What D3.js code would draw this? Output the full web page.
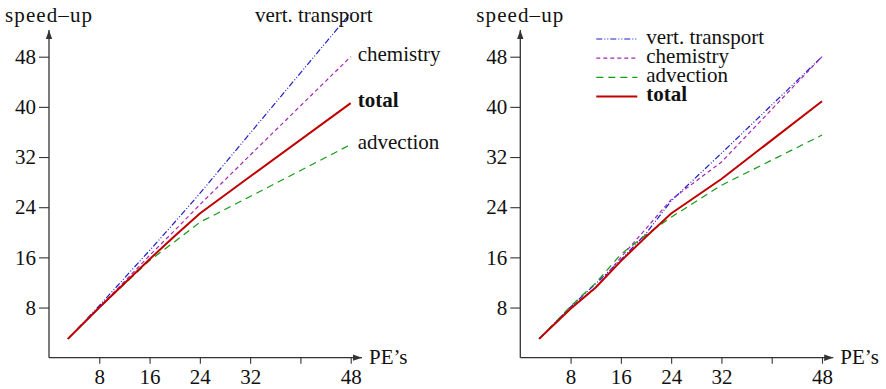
<!DOCTYPE html>
<html>
<head>
<meta charset="utf-8">
<script src="https://cdn.jsdelivr.net/npm/d3@7"></script>
<style>
  body { margin: 0; background: #fff; }
  text { font-family: "Liberation Serif", "Times New Roman", serif; fill: #111; }
</style>
</head>
<body>
<svg id="chart" width="886" height="389"></svg>
<script>
// left panel: measured speed-up per component
const peLeft = [3, 8, 16, 20, 24, 32, 48];
const vertLeft = [3, 8.3, 17.1, 21.6, 26.2, 35.8, 55];
const chemLeft = [3, 8, 16.3, 20.3, 24.4, 32.3, 48];
const advLeft = [3, 8, 15.5, 18.5, 21.6, 25.7, 34];
const totalLeft = [3, 8, 15.7, 19.4, 23.0, 28.9, 40.6];

// right panel
const peRight = [3, 8, 12, 16, 20, 24, 32, 48];
const vertRight = [3, 8.1, 11.8, 15.6, 19.8, 25.0, 32.6, 48];
const chemRight = [3, 8.0, 11.2, 16.0, 20.6, 25.2, 31.2, 48];
const advRight = [3, 8.2, 11.9, 16.5, 19.6, 22.4, 27.5, 35.5];
const totalRight = [3, 7.8, 11.2, 15.4, 19.3, 23.0, 28.5, 40.9];

const seriesNames = ["vert. transport", "chemistry", "advection", "total"];
const xTicks = [8, 16, 24, 32, 40, 48];
const yTicks = [8, 16, 24, 32, 40, 48];

const styles = {
  "vert. transport": {color: "#1c1cc8", dash: "6,2,1,2,1,2", width: 1.2},
  "chemistry": {color: "#a526b8", dash: "4,3", width: 1.2},
  "advection": {color: "#139a13", dash: "7,5", width: 1.2},
  "total": {color: "#c00000", dash: null, width: 2}
};

const fs = 21;
const svg = d3.select("#chart");
const axisColor = "#333";

svg.append("defs").append("marker")
    .attr("id", "arrow")
    .attr("viewBox", "0 0 10 10")
    .attr("refX", 10).attr("refY", 5)
    .attr("markerWidth", 7).attr("markerHeight", 7)
    .attr("orient", "auto")
  .append("path")
    .attr("d", "M0,1.5L10,5L0,8.5Z")
    .attr("fill", axisColor);

function drawPanel(ox, pe, values, endLabels) {
  const x = d3.scaleLinear().domain([0, 48]).range([ox, ox + 301.7]);
  const y = d3.scaleLinear().domain([0, 48]).range([357.7, 56.7]);
  const g = svg.append("g");

  // axes lines with arrows
  g.append("line")
      .attr("x1", ox).attr("y1", y(0)).attr("x2", ox).attr("y2", 30)
      .attr("stroke", axisColor).attr("stroke-width", 1.3)
      .attr("marker-end", "url(#arrow)");
  g.append("line")
      .attr("x1", ox).attr("y1", y(0)).attr("x2", ox + 313).attr("y2", y(0))
      .attr("stroke", axisColor).attr("stroke-width", 1.3)
      .attr("marker-end", "url(#arrow)");

  const ya = g.append("g")
      .attr("transform", `translate(${ox},0)`)
      .call(d3.axisLeft(y).tickValues(yTicks).tickSize(10).tickPadding(3));
  const xa = g.append("g")
      .attr("transform", `translate(0,${y(0)})`)
      .call(d3.axisBottom(x).tickValues(xTicks).tickSize(6).tickPadding(5)
        .tickFormat(d => d === 40 ? "" : d));
  [ya, xa].forEach(a => {
    a.select(".domain").remove();
    a.selectAll("line").attr("stroke", axisColor).attr("stroke-width", 1.1);
    a.selectAll("text")
      .attr("font-family", "Liberation Serif, serif")
      .attr("font-size", fs).attr("fill", "#111");
  });

  g.append("text")
      .attr("x", ox - 44).attr("y", 22)
      .attr("font-size", fs)
      .attr("textLength", 87).attr("lengthAdjust", "spacing")
      .text("speed\u2013up");
  g.append("text")
      .attr("x", ox + 320).attr("y", 364)
      .attr("font-size", fs)
      .text("PE\u2019s");

  const line = d3.line().x(d => x(d[0])).y(d => y(d[1]));

  seriesNames.forEach(name => {
    const s = styles[name];
    g.append("path")
        .datum(pe.map((p, i) => [p, values[name][i]]))
        .attr("fill", "none")
        .attr("stroke", s.color)
        .attr("stroke-width", s.width)
        .attr("stroke-dasharray", s.dash)
        .attr("d", line);
  });

  if (endLabels) {
    seriesNames.forEach(name => {
      const v = values[name][values[name].length - 1];
      const t = g.append("text")
          .attr("font-size", fs)
          .attr("font-weight", name === "total" ? "bold" : null)
          .text(name);
      if (name === "vert. transport") {
        t.attr("x", x(48) + 22).attr("y", y(v) + 9).attr("text-anchor", "end");
      } else {
        t.attr("x", x(48) + 7).attr("y", y(v)).attr("dy", "0.2em");
      }
    });
  } else {
    const leg = g.append("g").attr("transform", `translate(${ox + 76},39)`);
    seriesNames.forEach((name, i) => {
      const s = styles[name];
      const row = leg.append("g").attr("transform", `translate(0,${i * 19.2})`);
      row.append("line")
          .attr("x1", 0).attr("x2", 41)
          .attr("stroke", s.color)
          .attr("stroke-width", s.width)
          .attr("stroke-dasharray", s.dash);
      row.append("text")
          .attr("x", 50).attr("dy", "0.22em")
          .attr("font-size", fs)
          .attr("font-weight", name === "total" ? "bold" : null)
          .text(name);
    });
  }
}

drawPanel(49, peLeft, {
  "vert. transport": vertLeft, "chemistry": chemLeft,
  "advection": advLeft, "total": totalLeft
}, true);

drawPanel(520.3, peRight, {
  "vert. transport": vertRight, "chemistry": chemRight,
  "advection": advRight, "total": totalRight
}, false);
</script>
</body>
</html>
